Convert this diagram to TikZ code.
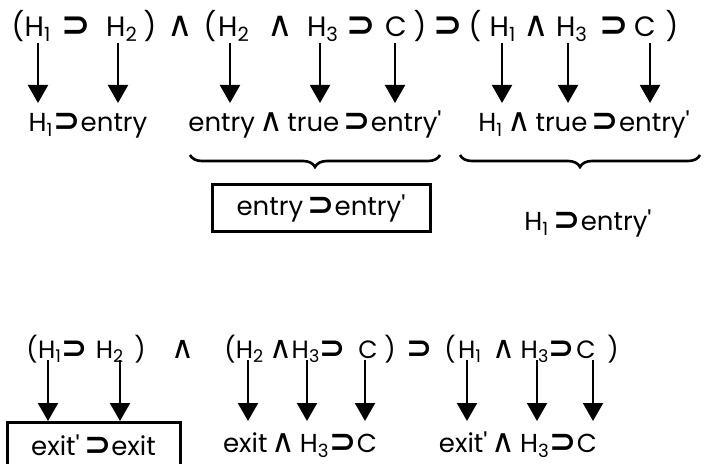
\documentclass[tikz,border=0pt]{standalone}
\usepackage{fontspec}
\setmainfont{Poppins}
\newfontfamily\symfont[Scale=1.25]{DejaVu Sans}
\usepackage{tikz}
\usetikzlibrary{arrows.meta,decorations.pathreplacing,positioning}
\newcommand{\sps}{{\symfont\bfseries\char"2283}}
\newcommand{\wdg}{{\symfont\char"2227}}
\newcommand{\pr}{\textquotesingle}

\begin{document}
\begin{tikzpicture}[x=0.5pt,y=-0.5pt,
  tok/.style={anchor=base,inner sep=0pt,font=\fontsize{14}{16}\selectfont},
  tokb/.style={tok,font=\fontsize{12.5}{15}\selectfont},
  lbl/.style={anchor=base,inner sep=0pt,font=\fontsize{13}{15}\selectfont},
  dn/.style={line width=1pt,-{Triangle[width=10pt,length=9pt]}},
  frame/.style={draw,line width=1.5pt,inner sep=0pt,font=\fontsize{13}{15}\selectfont},
  brc/.style={decorate,decoration={brace,mirror,amplitude=6pt},line width=1.3pt}]
  \useasboundingbox (0,0) rectangle (705,464);
  % first formula and what each part becomes
  \foreach \x/\t [count=\i] in {18/{(},38/{H\textsubscript{1}},76/{\sps},122/{H\textsubscript{2}},150/{)},180/{\wdg},210/{(},234/{H\textsubscript{2}},280/{\wdg},323/{H\textsubscript{3}},361/{\sps},396/{C},420/{)},448/{\sps},475/{(},503/{H\textsubscript{1}},536/{\wdg},572/{H\textsubscript{3}},614/{\sps},645/{C},672/{)}} {\node[tok] (up\i) at (\x,37) {\t};}
  \foreach \x [count=\i] in {38,118,230,320,395,502,568,650} {\coordinate (ua\i) at (\x,43); \coordinate (ub\i) at (\x,103); \draw[dn] (ua\i) -- (ub\i);}
  \node[lbl] (l1) at (88,132) {H\textsubscript{1}\sps entry};
  \node[lbl] (l2) at (315,132) {entry\,\wdg\,true\,\sps entry\pr};
  \node[lbl] (l3) at (584,132) {H\textsubscript{1}\,\wdg\,true\,\sps entry\pr};
  \coordinate (b1s) at (190,155); \coordinate (b1e) at (440,155);
  \coordinate (b2s) at (460,155); \coordinate (b2e) at (700,155);
  \draw[brc] (b1s) -- (b1e);
  \draw[brc] (b2s) -- (b2e);
  \node[frame,minimum width=109pt,minimum height=23.5pt] (box1) at (321,208.5) {entry\,\sps entry\pr};
  \node[lbl] (l4) at (588,231) {H\textsubscript{1}\,\sps entry\pr};
  % second formula
  \foreach \x/\t [count=\i] in {32/{(},50/{H\textsubscript{1}},75/{\sps},110/{H\textsubscript{2}},140/{)},183/{\wdg},230/{(},250/{H\textsubscript{2}},281/{\wdg},306/{H\textsubscript{3}},333/{\sps},368/{C},390/{)},420/{\sps},450/{(},470/{H\textsubscript{1}},504/{\wdg},535/{H\textsubscript{3}},562/{\sps},586/{C},613/{)}} {\node[tokb] (lo\i) at (\x,358) {\t};}
  \foreach \x [count=\i] in {48,120,248,307,365,467,537,593} {\coordinate (da\i) at (\x,360); \coordinate (db\i) at (\x,421); \draw[dn] (da\i) -- (db\i);}
  \node[frame,minimum width=86.5pt,minimum height=23pt] (box2) at (93.5,445) {exit\pr\,\sps exit};
  \node[lbl] (l5) at (300,452) {exit\,\wdg\,H\textsubscript{3}\sps C};
  \node[lbl] (l6) at (518,452) {exit\pr\,\wdg\,H\textsubscript{3}\sps C};
\end{tikzpicture}
\end{document}
